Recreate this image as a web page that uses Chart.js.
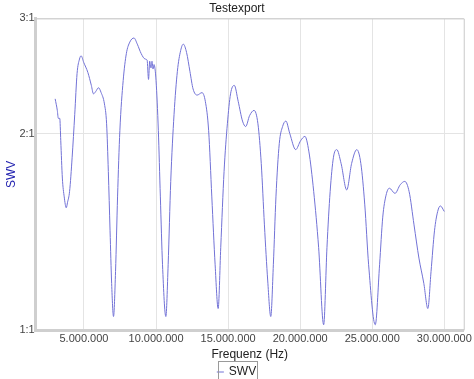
<!DOCTYPE html>
<html><head><meta charset="utf-8">
<script src="https://cdn.jsdelivr.net/npm/chart.js@4/dist/chart.umd.min.js"></script>
<style>html,body{margin:0;padding:0;background:#fff;}#wrap{width:474px;height:379px;position:relative;}</style>
</head><body><div id="wrap"><canvas id="c" width="474" height="379"></canvas></div>
<script>
const chartTitle = 'Testexport';
const seriesName = 'SWV';
const xTitle = 'Frequenz (Hz)';
const yTitle = 'SWV';
const xTicksHz = [5000000,10000000,15000000,20000000,25000000,30000000];
const yTicks = [1,2,3];
const freqMHz = [3.00,3.15,3.22,3.32,3.39,3.50,3.63,3.77,3.86,4.00,
4.18,4.36,4.52,4.69,4.80,4.98,5.27,5.51,5.66,5.82,
6.01,6.19,6.42,6.57,6.69,6.81,6.92,7.05,7.19,7.33,
7.49,7.72,7.94,8.18,8.47,8.70,8.97,9.24,9.38,9.48,
9.56,9.65,9.72,9.79,9.86,10.00,10.16,10.30,10.45,10.68,
10.84,11.02,11.25,11.48,11.71,11.89,12.12,12.35,12.57,12.85,
13.19,13.42,13.65,13.87,14.10,14.31,14.49,14.72,14.95,15.17,
15.43,15.70,16.00,16.22,16.49,16.80,17.07,17.30,17.52,17.75,
17.96,18.14,18.32,18.55,18.78,19.01,19.28,19.69,20.03,20.33,
20.60,20.94,21.28,21.63,21.86,22.08,22.31,22.54,22.84,23.23,
23.57,23.93,24.21,24.48,24.75,25.21,25.51,25.73,25.96,26.19,
26.58,26.94,27.26,27.56,27.90,28.24,28.58,28.86,29.08,29.32,
29.54,29.73,30.00];
const swr = [2.26,2.17,2.11,2.11,1.95,1.71,1.60,1.54,1.57,1.63,
1.84,2.14,2.47,2.60,2.63,2.57,2.48,2.37,2.30,2.32,
2.35,2.31,2.22,2.07,1.75,1.42,1.18,1.05,1.23,1.60,
2.02,2.41,2.65,2.76,2.80,2.74,2.65,2.60,2.59,2.42,
2.58,2.52,2.58,2.51,2.55,2.41,2.02,1.60,1.26,1.05,
1.26,1.69,2.14,2.49,2.68,2.74,2.66,2.49,2.34,2.29,
2.31,2.24,2.02,1.60,1.26,1.08,1.34,1.75,2.07,2.30,
2.37,2.24,2.09,2.05,2.13,2.17,2.07,1.80,1.45,1.19,
1.05,1.26,1.60,1.93,2.05,2.09,2.00,1.89,1.95,1.98,
1.88,1.63,1.34,1.02,1.34,1.63,1.84,1.89,1.80,1.64,
1.80,1.89,1.80,1.56,1.26,1.02,1.26,1.49,1.61,1.65,
1.62,1.67,1.69,1.63,1.45,1.29,1.18,1.08,1.23,1.42,
1.52,1.55,1.52];
const xMinHz = 1650000, xMaxHz = 31350000;

const points = freqMHz.map((f,i)=>({x: f*1e6, y: swr[i]}));
const fmtDe = v => Math.round(v).toString().replace(/\B(?=(\d{3})+(?!\d))/g,'.');
const FONT = '"Liberation Sans", Arial, sans-serif';

const frame = {
  id:'frame',
  afterDraw(chart){
    const {ctx, chartArea:a} = chart;
    ctx.save();
    ctx.strokeStyle = '#c9c9c9'; ctx.lineWidth = 1;
    ctx.beginPath();
    ctx.moveTo(a.left, a.top+0.5); ctx.lineTo(a.right+0.5, a.top+0.5); ctx.lineTo(a.right+0.5, a.bottom);
    ctx.stroke();
    const lg = chart.legend;
    if (lg && lg.legendHitBoxes && lg.legendHitBoxes.length){
      const h = lg.legendHitBoxes[0];
      ctx.strokeStyle = '#9a9a9a';
      ctx.strokeRect(Math.round(h.left)+0.5, Math.round(h.top)-4.5, Math.round(h.width)+1, Math.round(h.height)+12);
    }
    ctx.restore();
  }
};

new Chart(document.getElementById('c'), {
  type:'line',
  data:{ datasets:[{ label: seriesName, data: points, borderColor:'#7272d6', backgroundColor:'#7272d6', borderWidth:1, pointRadius:0, cubicInterpolationMode:'monotone', fill:false }]},
  options:{
    responsive:false, animation:false, devicePixelRatio:1,
    layout:{ padding:{ left:4, right:4, top:0, bottom:-9 } },
    plugins:{
      title:{ display:true, text: chartTitle, color:'#222', font:{ family:FONT, size:12, weight:'500' }, padding:{ top:1, bottom:3 } },
      legend:{ display:true, position:'bottom', labels:{ usePointStyle:true, pointStyle:'line', boxWidth:5, boxHeight:5, color:'#222', font:{ family:FONT, size:12 }, padding:4 } },
      tooltip:{ enabled:false }
    },
    scales:{
      x:{ type:'linear', min:xMinHz, max:xMaxHz,
        afterBuildTicks: s => { s.ticks = xTicksHz.map(v=>({value:v})); },
        ticks:{ callback: v => fmtDe(v), color:'#444', font:{ family:FONT, size:11 }, padding:2, maxRotation:0, autoSkip:false },
        grid:{ color:'#e4e4e4', drawTicks:false },
        border:{ color:'#cfcfcf', width:3 },
        title:{ display:true, text:xTitle, color:'#222', font:{ family:FONT, size:12 }, padding:{ top:0, bottom:0 } }
      },
      y:{ type:'logarithmic', min:1, max:3,
        afterBuildTicks: s => { s.ticks = yTicks.map(v=>({value:v})); },
        ticks:{ callback: v => v + ':1', color:'#444', font:{ family:FONT, size:11 }, padding:1, autoSkip:false },
        grid:{ color:'#e4e4e4', drawTicks:false },
        border:{ color:'#cfcfcf', width:3 },
        title:{ display:true, text:yTitle, color:'#2323b0', font:{ family:FONT, size:12 }, padding:{ top:0, bottom:0 } }
      }
    }
  },
  plugins:[frame]
});
</script></body></html>
